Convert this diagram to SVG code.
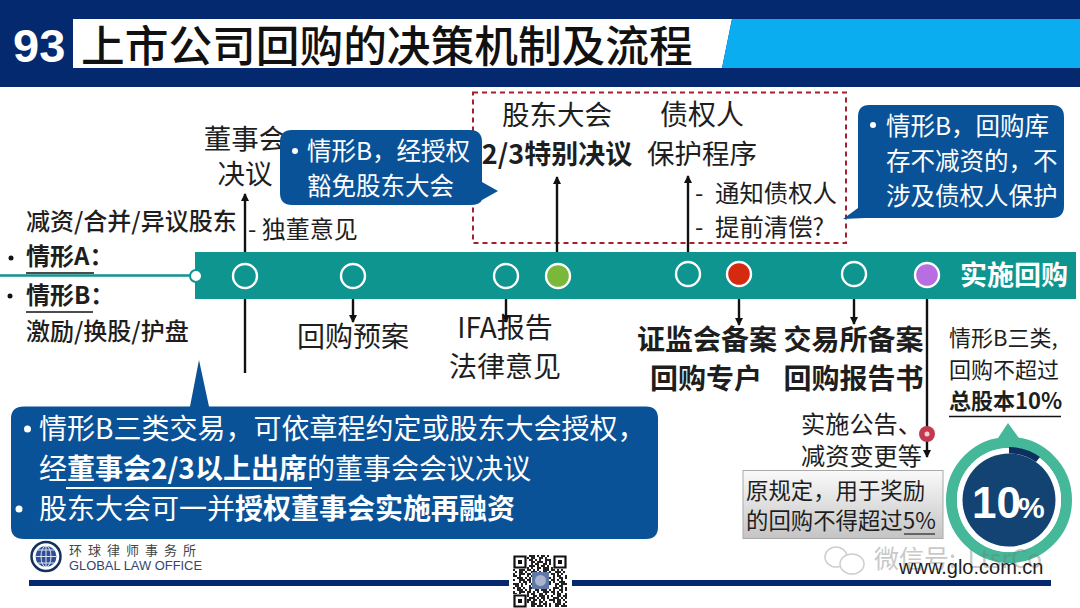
<svg xmlns="http://www.w3.org/2000/svg" width="1080" height="608" viewBox="0 0 1080 608">
<style>
text{font-family:"Noto Sans CJK SC","Liberation Sans",sans-serif;fill:#1e1e1e}
.t{font-size:27.5px;text-anchor:middle}
.b{font-weight:700}
.w{fill:#fff;font-size:24.5px}
.x{fill:#fff;font-size:28px}
.c{fill:#0a5298}
.l{stroke:#111;stroke-width:2.4;fill:none}
.n{fill:#0e9590;stroke:#fff;stroke-width:2.4}
.d1{stroke-dasharray:2 2 4 2 2 4 6 2}
.d2{stroke-dasharray:4 2 2 6 2 2 4 4}
.d3{stroke-dasharray:2 4 6 2 4 2 2 2}
.d4{stroke-dasharray:6 2 2 2 2 4 4 2}
#qrbits path{stroke:#222;stroke-width:2;fill:none}
</style>
<defs>
<marker id="a" markerWidth="10" markerHeight="10" refX="7" refY="4" orient="auto" markerUnits="userSpaceOnUse"><path d="M0 0L8 4L0 8z" fill="#111"/></marker>
<linearGradient id="g" x1="0" y1="0" x2="0" y2="1"><stop offset="0" stop-color="#fafafa"/><stop offset="1" stop-color="#c4c4c4"/></linearGradient>
</defs>
<rect width="1080" height="608" fill="#fff"/>
<g id="header">
<rect width="1080" height="87" fill="#04296e"/>
<path d="M73 19H732L722 68H73z" fill="#fff"/>
<path d="M732 19H1080V68H722z" fill="#0aaef0"/>
<text x="13" y="62" style="fill:#fff;font-size:47px;font-weight:700;font-family:'Liberation Sans',sans-serif">93</text>
<text x="81" y="62" style="font-size:43.7px;font-weight:500;fill:#111">上市公司回购的决策机制及流程</text>
</g>
<g id="timeline">
<path d="M0 275.500H196" stroke="#0e9590" stroke-width="2.500"/>
<rect x="195" y="252" width="881" height="47" fill="#0e9590"/>
<circle cx="196" cy="276" r="6" fill="#fff" stroke="#0e9590" stroke-width="2"/>
<text x="960" y="285" style="fill:#fff;font-size:27px;font-weight:700">实施回购</text>
</g>
<g id="node-board">
<circle class="n" cx="245" cy="276" r="12"/>
<text class="t" x="245" y="149">董事会</text>
<text class="t" x="245" y="184">决议</text>
<text x="248" y="238" style="font-size:24px">- 独董意见</text>
</g>
<g id="node-plan">
<circle class="n" cx="353" cy="276" r="12"/>
<text class="t" x="353" y="347" style="font-size:28px">回购预案</text>
</g>
<g id="node-ifa">
<circle class="n" cx="506" cy="276" r="12"/>
<text class="t" x="505" y="338" style="font-size:28px">IFA报告</text>
<text class="t" x="505" y="377" style="font-size:28px">法律意见</text>
</g>
<g id="node-meeting">
<circle cx="558" cy="276" r="12" fill="#7ab83a" stroke="#fff" stroke-width="2.400"/>
<text class="t" x="557" y="125">股东大会</text>
<text class="t b" x="557" y="164" style="font-size:27px">2/3特别决议</text>
</g>
<g id="node-creditor">
<circle class="n" cx="688" cy="274" r="12"/>
<text class="t" x="702" y="125" style="font-size:28px">债权人</text>
<text class="t" x="702" y="164">保护程序</text>
<text x="695" y="202" style="font-size:24px">-</text><text x="715" y="202" style="font-size:24.4px">通知债权人</text>
<text x="695" y="236" style="font-size:24px">-</text><text x="715" y="236" style="font-size:24.4px">提前清偿?</text>
</g>
<g id="node-csrc">
<circle cx="739" cy="274" r="12" fill="#d42a10" stroke="#fff" stroke-width="2.400"/>
<text class="t b" x="707" y="350" style="font-size:28px">证监会备案</text>
<text class="t b" x="706" y="389" style="font-size:28px">回购专户</text>
</g>
<g id="node-exchange">
<circle class="n" cx="854" cy="274" r="12"/>
<text class="t b" x="853.500" y="350" style="font-size:28px">交易所备案</text>
<text class="t b" x="853.500" y="389" style="font-size:28px">回购报告书</text>
</g>
<g id="node-implement">
<circle cx="927" cy="275" r="12" fill="#b86ee0" stroke="#fff" stroke-width="2.400"/>
<text x="801" y="433" style="font-size:24.2px">实施公告、</text>
<text x="801" y="465" style="font-size:24.2px">减资变更等</text>
</g>
<g id="frame"><rect x="473" y="92.500" width="373" height="150.500" fill="none" stroke="#a5202e" stroke-width="2" stroke-dasharray="5 4"/></g>
<g id="connectors">
<path class="l" d="M245 252V194" marker-end="url(#a)"/>
<path class="l" d="M245 299V373"/>
<path class="l" d="M353 299V322" marker-end="url(#a)"/>
<path class="l" d="M506 299V322" marker-end="url(#a)"/>
<path class="l" d="M557 252V177" marker-end="url(#a)"/>
<path class="l" d="M688 252V176" marker-end="url(#a)"/>
<path class="l" d="M739 299V325" marker-end="url(#a)"/>
<path class="l" d="M854 299V324" marker-end="url(#a)"/>
<path class="l" d="M927 299V457" marker-end="url(#a)"/>
</g>
<g id="pin"><circle cx="927" cy="434" r="8" fill="#c23a50"/><circle cx="927" cy="434" r="2.500" fill="#f2d0d5"/></g>
<g id="callout-1">
<path class="c" d="M292 130H470Q482 130 482 142V182L498 191L482 200Q480 205 470 205H292Q280 205 280 193V142Q280 130 292 130z"/>
<circle cx="295" cy="151" r="3" fill="#fff"/>
<text class="w" x="307" y="160">情形B，经授权</text>
<text class="w" x="307" y="195">豁免股东大会</text>
</g>
<g id="callout-2">
<path class="c" d="M869 105H1052Q1064 105 1064 117V206Q1064 218 1052 218H865L843 219L858 208V117Q858 105 869 105z"/>
<circle cx="873" cy="125" r="3" fill="#fff"/>
<text class="w" x="886" y="135">情形B，回购库</text>
<text class="w" x="886" y="170">存不减资的，不</text>
<text class="w" x="886" y="205">涉及债权人保护</text>
</g>
<g id="callout-3">
<path class="c" d="M24 406.500H190L199 360L209 406.500H646Q658 406.500 658 418.500V527Q658 539 646 539H24Q11 539 11 527V418.500Q11 406.500 24 406.500z"/>
<circle cx="27.500" cy="429" r="3.500" fill="#fff"/>
<text class="x" x="39" y="439">情形B三类交易，可依章程约定或股东大会授权，</text>
<text class="x" x="39" y="479">经<tspan font-weight="700">董事会2/3以上出席</tspan>的董事会会议决议</text>
<path d="M66 488H312" stroke="#fff" stroke-width="2"/>
<circle cx="19" cy="509" r="3.500" fill="#fff"/>
<text class="x" x="39" y="519">股东大会可一并<tspan font-weight="700">授权董事会实施再融资</tspan></text>
</g>
<g id="left-labels">
<text x="26" y="230" style="font-size:24px;font-weight:500">减资/合并/异议股东</text>
<circle cx="11" cy="258" r="2.500" fill="#111"/>
<text x="26" y="265" class="b" style="font-size:24px">情形A：</text>
<path d="M26 273H94" stroke="#111" stroke-width="1.500"/>
<circle cx="10" cy="296" r="2.500" fill="#111"/>
<text x="26" y="304" class="b" style="font-size:24px">情形B：</text>
<path d="M26 312H93" stroke="#111" stroke-width="1.500"/>
<text x="26" y="340" style="font-size:24px;font-weight:500">激励/换股/护盘</text>
</g>
<g id="limit">
<text x="949" y="346" style="font-size:22px">情形B三类,</text>
<text x="949" y="378" style="font-size:22px">回购不超过</text>
<text x="949" y="409" class="b" style="font-size:22px">总股本10%</text>
<path d="M949 416.500H1061" stroke="#111" stroke-width="1.500"/>
<path d="M996 441L1008 423L1021 441z" fill="#45b89a"/>
<circle cx="1009" cy="500" r="57.500" fill="none" stroke="#45b89a" stroke-width="11"/>
<circle cx="1009" cy="500" r="52" fill="#fff"/>
<circle cx="1009" cy="500" r="46.500" fill="#134373"/>
<path d="M1009 447A53 53 0 0 1 1040 457L1036 462A46.500 46.500 0 0 0 1009 453.500z" fill="#0c3160"/>
<text x="972" y="518" style="fill:#fff;font-size:44px;font-weight:700;font-family:'Liberation Sans',sans-serif">10</text>
<text x="1018" y="518" style="fill:#fff;font-size:30px;font-weight:700;font-family:'Liberation Sans',sans-serif">%</text>
</g>
<g id="note">
<rect x="743" y="470.500" width="200" height="68" fill="url(#g)" stroke="#aaa"/>
<text x="746" y="499" style="font-size:22.400px">原规定，用于奖励</text>
<text x="746" y="529" style="font-size:22.400px">的回购不得超过5%</text>
<path d="M904 534H935" stroke="#222" stroke-width="1.200"/>
</g>
<g id="watermark" opacity="0.4">
<ellipse cx="836" cy="557" rx="11" ry="10" fill="#fff" stroke="#888" stroke-width="1.500"/>
<ellipse cx="852" cy="564" rx="12" ry="10" fill="#fff" stroke="#888" stroke-width="1.500"/>
<text x="874" y="568" style="font-size:25px;fill:#777">微信号: <tspan dx="6" font-size="25">LtsrCo</tspan></text>
</g>
<g id="footer">
<circle cx="46" cy="556.500" r="14.500" fill="#fff" stroke="#14305f" stroke-width="2.500"/>
<circle cx="46" cy="556.500" r="10.500" fill="#2e4f96"/>
<path d="M35.500 556.500H56.500M46 546V567M38 550H54M38 563H54" stroke="#dfe6f2" stroke-width="1"/>
<ellipse cx="46" cy="556.500" rx="5" ry="10.500" fill="none" stroke="#dfe6f2"/>
<text x="69" y="555" style="font-size:13px;letter-spacing:6px;fill:#444">环球律师事务所</text>
<text x="69" y="570" style="font-size:12.900px;fill:#34456e;font-family:'Liberation Sans',sans-serif">GLOBAL LAW OFFICE</text>
<path d="M29 580H509V586H29zM572 580H1051V586H572z" fill="#04296e"/>
<text x="899" y="574" style="font-size:20px;font-family:'Liberation Sans',sans-serif">www.glo.com.cn</text>
</g>
<g id="qr">
<g id="qrbits">
<path class="d1" d="M513 556H567"/><path class="d2" d="M513 558H567"/><path class="d3" d="M515 560H567"/><path class="d4" d="M513 562H567"/>
<path class="d2" d="M517 564H567"/><path class="d1" d="M513 566H567"/><path class="d4" d="M519 568H567"/><path class="d3" d="M513 570H567"/>
<path class="d1" d="M515 572H567"/><path class="d3" d="M513 574H567"/><path class="d2" d="M513 576H567"/><path class="d4" d="M517 578H567"/>
<path class="d3" d="M513 580H567"/><path class="d1" d="M519 582H567"/><path class="d4" d="M513 584H567"/><path class="d2" d="M515 586H567"/>
<path class="d1" d="M513 588H567"/><path class="d4" d="M517 590H567"/><path class="d3" d="M513 592H567"/><path class="d2" d="M513 594H567"/>
<path class="d4" d="M515 596H567"/><path class="d1" d="M513 598H567"/><path class="d3" d="M519 600H567"/><path class="d2" d="M513 602H567"/>
<path class="d1" d="M515 604H567"/><path class="d4" d="M513 606H567"/>
</g>
<path d="M513 555h14v14h-14zM553 555h14v14h-14zM513 594h14v14h-14z" fill="#fff"/>
<path d="M514.500 556.500h11v11h-11zM554.500 556.500h11v11h-11zM514.500 595.500h11v11h-11z" fill="none" stroke="#111" stroke-width="2.200"/>
<path d="M518 560h4v4h-4zM558 560h4v4h-4zM518 599h4v4h-4z" fill="#111"/>
<rect x="532" y="572" width="17" height="17" fill="#5f78a8"/>
<circle cx="540.500" cy="580.500" r="5.500" fill="#a9b4cc"/>
</g>
</svg>
